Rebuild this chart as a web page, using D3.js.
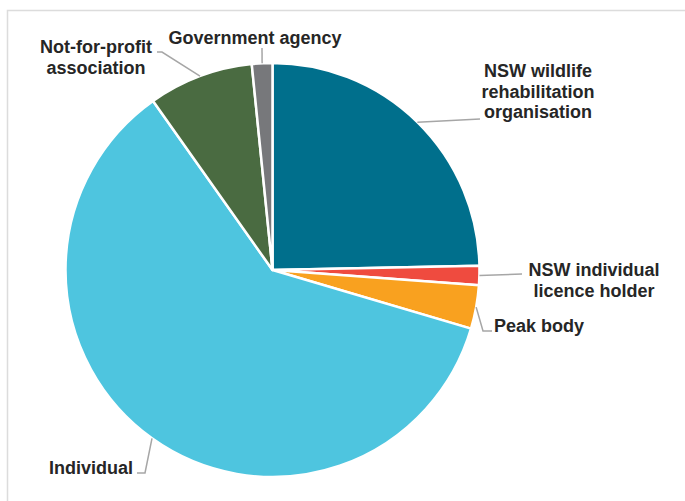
<!DOCTYPE html>
<html>
<head>
<meta charset="utf-8">
<script src="https://cdn.jsdelivr.net/npm/d3@7"></script>
<style>
  html, body { margin: 0; padding: 0; background: #fff; }
  svg { display: block; }
</style>
</head>
<body>
<svg id="chart" width="685" height="501"></svg>
<script>
// Share of submissions by respondent type (%), clockwise from 12 o'clock
const categories = [
  "NSW wildlife rehabilitation organisation",
  "NSW individual licence holder",
  "Peak body",
  "Individual",
  "Not-for-profit association",
  "Government agency"
];
const shares = [24.7, 1.5, 3.4, 60.7, 8.2, 1.6];
const colors = ["#006F8C", "#EF4B3F", "#F9A11F", "#4EC5DF", "#4A6B41", "#77787B"];

// Label text broken into lines
const labelLines = [
  ["NSW wildlife", "rehabilitation", "organisation"],
  ["NSW individual", "licence holder"],
  ["Peak body"],
  ["Individual"],
  ["Not-for-profit", "association"],
  ["Government agency"]
];

// Label layout: elbow of the leader line, end of leader line, text anchor point
const labelLayout = [
  { elbow: null,       end: [480, 119], text: [538, 77],  anchor: "middle" },
  { elbow: null,       end: [522, 274], text: [594, 276], anchor: "middle" },
  { elbow: [483, 331], end: [492, 331], text: [494, 332], anchor: "start" },
  { elbow: [145, 473], end: [137, 473], text: [133, 474], anchor: "end" },
  { elbow: [162, 52],  end: [157, 52],  text: [96, 53],   anchor: "middle" },
  { elbow: null,       end: [262, 48],  text: [255, 44],  anchor: "middle" }
];

const svg = d3.select("#chart");
const cx = 272.5, cy = 270, r = 207;

// Frame
svg.append("rect")
  .attr("x", 7.5).attr("y", 10.5)
  .attr("width", 700).attr("height", 520)
  .attr("fill", "none").attr("stroke", "#DCDCDC").attr("stroke-width", 1.5);

const data = categories.map((c, i) => ({ name: c, value: shares[i], color: colors[i], i }));

const pie = d3.pie().sort(null).value(d => d.value);
const arcs = pie(data);
const arc = d3.arc().innerRadius(0).outerRadius(r);
const edge = d3.arc().innerRadius(r).outerRadius(r);

const g = svg.append("g").attr("transform", `translate(${cx},${cy})`);

g.selectAll("path.slice")
  .data(arcs)
  .join("path")
  .attr("class", "slice")
  .attr("d", arc)
  .attr("fill", d => d.data.color)
  .attr("stroke", "#fff")
  .attr("stroke-width", 2.5)
  .attr("stroke-linejoin", "round");

// Leader lines from the arc midpoint of each slice
const lines = svg.append("g");
arcs.forEach((a, i) => {
  const [ex, ey] = edge.centroid(a);
  const L = labelLayout[i];
  const pts = [[cx + ex, cy + ey]];
  if (L.elbow) pts.push(L.elbow);
  pts.push(L.end);
  lines.append("path")
    .attr("d", d3.line()(pts))
    .attr("fill", "none")
    .attr("stroke", "#A6A6A6")
    .attr("stroke-width", 1.5);
});

// Labels
const labels = svg.append("g")
  .attr("font-family", "'Liberation Sans', Arial, sans-serif")
  .attr("font-weight", "bold")
  .attr("font-size", 18)
  .attr("fill", "#262626");
arcs.forEach((a, i) => {
  const L = labelLayout[i];
  const t = labels.append("text")
    .attr("x", L.text[0]).attr("y", L.text[1])
    .attr("text-anchor", L.anchor);
  labelLines[i].forEach((line, k) => {
    t.append("tspan")
      .attr("x", L.text[0])
      .attr("dy", k === 0 ? 0 : 20.5)
      .text(line);
  });
});
</script>
</body>
</html>
